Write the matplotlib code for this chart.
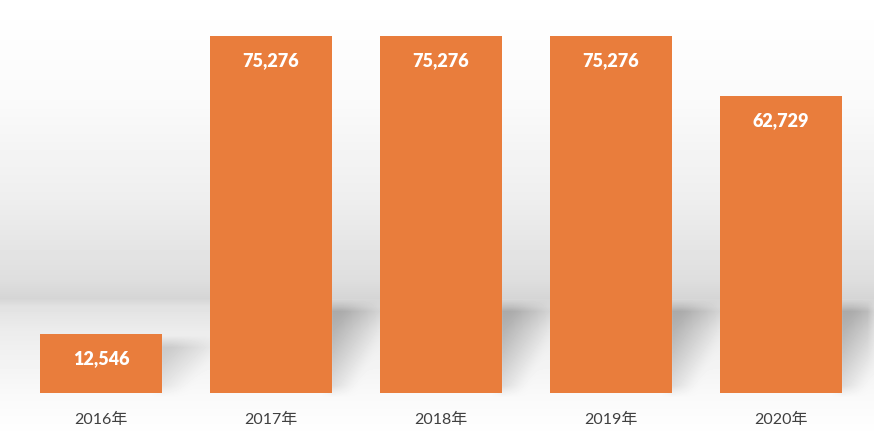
import numpy as np
import matplotlib
matplotlib.use('Agg')
import matplotlib.pyplot as plt

### Data
years = ['2016年', '2017年', '2018年', '2019年', '2020年']
values = [12546, 75276, 75276, 75276, 62729]

bar_color = '#E97D3C'
plt.rcParams['font.family'] = ['Lato', 'Noto Sans CJK SC', 'DejaVu Sans']

W, H = 874, 438
fig = plt.figure(figsize=(W / 100, H / 100), dpi=100)

# Axes placed in pixel units
ax = fig.add_axes([16 / W, 45 / H, 850 / W, 379.4 / H])
ax.set_xlim(-0.5, len(years) - 0.5)
ax.set_ylim(0, 80000)

### Background: vertical grey gradient plus soft shadows behind the bars
yy = np.arange(H)
prof = np.interp(yy, [0, 100, 200, 280, 298, 306, 330, 393, 438],
                 [255, 250, 238, 222, 213, 226, 236, 249, 255])
bg = np.repeat(prof[:, None], W, axis=1).astype(float)

width = 0.72
shade = np.zeros((H, W))
X, Y = np.meshgrid(np.arange(W), np.arange(H))
for i, v in enumerate(values):
    # bar corners in figure pixels (origin top-left)
    x1, y1 = ax.transData.transform((i + width / 2, v))
    x0, y0 = ax.transData.transform((i - width / 2, 0))
    xr = x1
    ytop = max(H - y1 + 8, 306)
    ybot = H - y0
    dx = (X - xr) / 44.0
    dy = (Y - ytop) / (ybot - ytop)
    s = 1.25 - (dx * 0.85 + dy * 0.85)
    s = np.clip(s, 0, 1)
    s[(X < xr - 5) | (Y < ytop) | (Y > ybot - 2)] = 0
    s *= min(1.0, (ybot - ytop) / 80)
    shade = np.maximum(shade, s)

# simple box blur
k = 6
for axis in (0, 1):
    c = np.cumsum(np.pad(shade, [(k, k) if a == axis else (0, 0) for a in (0, 1)]), axis=axis)
    if axis == 0:
        shade = (c[2 * k:, :] - c[:-2 * k, :]) / (2 * k)
    else:
        shade = (c[:, 2 * k:] - c[:, :-2 * k]) / (2 * k)
shade = shade[:H, :W]
bg = bg - 58 * shade

bg_ax = fig.add_axes([0, 0, 1, 1], zorder=-1)
bg_ax.imshow(np.clip(bg, 0, 255) / 255.0, cmap='gray', vmin=0, vmax=1,
             aspect='auto', extent=[0, W, H, 0], interpolation='bilinear')
bg_ax.axis('off')
ax.patch.set_visible(False)

### Bars
x = np.arange(len(years))
bars = ax.bar(x, values, width=width, color=bar_color, zorder=2)

for b, v in zip(bars, values):
    ax.annotate(f'{v:,}', xy=(b.get_x() + b.get_width() / 2, v),
                xytext=(0, -18), textcoords='offset points',
                ha='center', va='center', color='white',
                fontsize=13, fontweight='heavy')

ax.set_xticks(x)
ax.set_xticklabels(years, fontsize=11.5, color='#404040')
ax.tick_params(axis='x', length=0, pad=14)
ax.set_yticks([])
for sp in ax.spines.values():
    sp.set_visible(False)

fig.savefig('out.png', dpi=100)
